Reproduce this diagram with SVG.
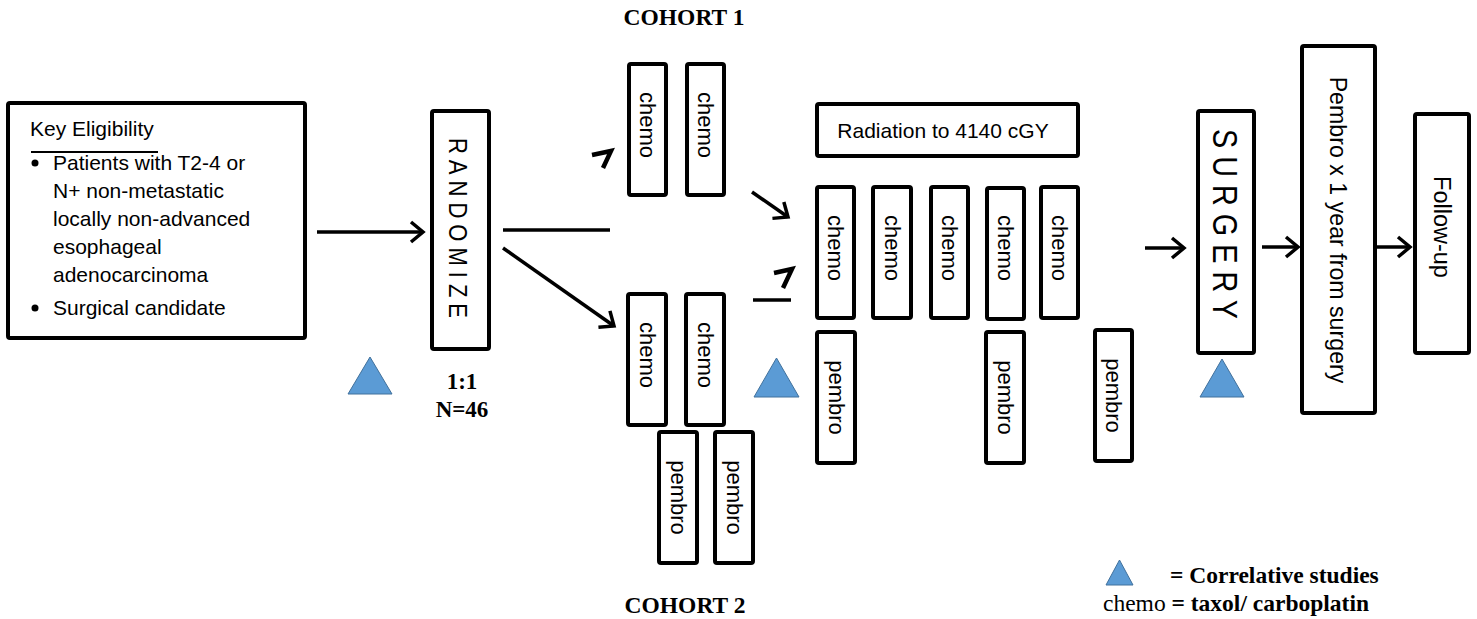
<svg xmlns="http://www.w3.org/2000/svg" width="1477" height="619" viewBox="0 0 1477 619">
  <defs>
    <style>
      .box { fill: #ffffff; stroke: #000000; stroke-width: 4; }
      .lbl { font-family: "Liberation Sans", Arial, sans-serif; fill: #000000; }
      .vt { font-family: "Liberation Sans", Arial, sans-serif; fill: #000000; text-anchor: middle; dominant-baseline: central; }
      .ser { font-family: "Liberation Serif", "Times New Roman", serif; fill: #000000; }
      .bold { font-weight: bold; }
      .tri { fill: #5b9bd5; stroke: #41719c; stroke-width: 1; }
      .conn { fill: none; stroke: #000000; stroke-width: 3.5; }
      .mark { fill: none; stroke: #000000; stroke-width: 4.5; stroke-linejoin: miter; }
    </style>
    <marker id="head" markerUnits="userSpaceOnUse" markerWidth="30" markerHeight="30" viewBox="-15 -15 30 30" refX="0" refY="0" orient="auto">
      <path d="M -12 -10 L 0 0 L -12 10" fill="none" stroke="#000000" stroke-width="3.5"/>
    </marker>
  </defs>

  <rect width="1477" height="619" fill="#ffffff"/>

  <!-- headings -->
  <g id="headings">
    <text class="ser bold" x="684" y="25" font-size="23.5" text-anchor="middle">COHORT 1</text>
    <text class="ser bold" x="685" y="613" font-size="23.5" text-anchor="middle">COHORT 2</text>
  </g>

  <!-- eligibility panel -->
  <g id="eligibility">
    <rect class="box" x="8" y="103" width="297" height="235" rx="2"/>
    <text class="lbl" x="30" y="136" font-size="21">Key Eligibility</text>
    <line x1="31" y1="152" x2="158" y2="152" stroke="#000" stroke-width="2"/>
    <circle cx="35" cy="163" r="3.5"/>
    <text class="lbl" x="53" y="170" font-size="21">Patients with T2-4 or</text>
    <text class="lbl" x="53" y="198" font-size="21">N+ non-metastatic</text>
    <text class="lbl" x="53" y="226" font-size="21">locally non-advanced</text>
    <text class="lbl" x="53" y="254" font-size="21">esophageal</text>
    <text class="lbl" x="53" y="282" font-size="21">adenocarcinoma</text>
    <circle cx="35" cy="308" r="3.5"/>
    <text class="lbl" x="53" y="315" font-size="21">Surgical candidate</text>
  </g>

  <!-- randomisation -->
  <g id="randomize">
    <rect class="box" x="432" y="111" width="57" height="238" rx="2"/>
    <text class="vt" transform="translate(458,231) rotate(90) scale(0.85,1)" font-size="26" letter-spacing="7">RANDOMIZE</text>
    <text class="ser bold" x="462" y="389" font-size="23" text-anchor="middle">1:1</text>
    <text class="ser bold" x="462" y="417" font-size="23" text-anchor="middle">N=46</text>
  </g>

  <!-- cohort 1 induction -->
  <g id="cohort1-chemo-1">
    <rect class="box" x="629" y="64" width="37" height="131" rx="2"/>
    <text class="vt" transform="translate(647.5,125) rotate(90)" font-size="22">chemo</text>
  </g>
  <g id="cohort1-chemo-2">
    <rect class="box" x="687" y="64" width="37" height="131" rx="2"/>
    <text class="vt" transform="translate(705.5,125) rotate(90)" font-size="22">chemo</text>
  </g>

  <!-- cohort 2 induction -->
  <g id="cohort2-chemo-1">
    <rect class="box" x="628" y="294" width="38" height="131" rx="2"/>
    <text class="vt" transform="translate(647,355) rotate(90)" font-size="22">chemo</text>
  </g>
  <g id="cohort2-chemo-2">
    <rect class="box" x="686" y="294" width="38" height="131" rx="2"/>
    <text class="vt" transform="translate(705,355) rotate(90)" font-size="22">chemo</text>
  </g>
  <g id="cohort2-pembro-1">
    <rect class="box" x="659" y="432" width="38" height="131" rx="2"/>
    <text class="vt" transform="translate(678,497.5) rotate(90)" font-size="22">pembro</text>
  </g>
  <g id="cohort2-pembro-2">
    <rect class="box" x="715" y="432" width="38" height="131" rx="2"/>
    <text class="vt" transform="translate(734,497.5) rotate(90)" font-size="22">pembro</text>
  </g>

  <!-- chemoradiation -->
  <g id="radiation">
    <rect class="box" x="817" y="104" width="261" height="52" rx="2"/>
    <text class="lbl" x="943" y="138" font-size="21" text-anchor="middle">Radiation to 4140 cGY</text>
  </g>
  <g id="crt-chemo-1">
    <rect class="box" x="817" y="187" width="37" height="131" rx="2"/>
    <text class="vt" transform="translate(835.5,248) rotate(90)" font-size="22">chemo</text>
  </g>
  <g id="crt-chemo-2">
    <rect class="box" x="873" y="187" width="38" height="131" rx="2"/>
    <text class="vt" transform="translate(892,248) rotate(90)" font-size="22">chemo</text>
  </g>
  <g id="crt-chemo-3">
    <rect class="box" x="931" y="187" width="37" height="131" rx="2"/>
    <text class="vt" transform="translate(949.5,248) rotate(90)" font-size="22">chemo</text>
  </g>
  <g id="crt-chemo-4">
    <rect class="box" x="987" y="188" width="37" height="131" rx="2"/>
    <text class="vt" transform="translate(1005.5,248) rotate(90)" font-size="22">chemo</text>
  </g>
  <g id="crt-chemo-5">
    <rect class="box" x="1041" y="187" width="37" height="131" rx="2"/>
    <text class="vt" transform="translate(1059.5,248) rotate(90)" font-size="22">chemo</text>
  </g>
  <g id="crt-pembro-1">
    <rect class="box" x="817" y="332" width="38" height="131" rx="2"/>
    <text class="vt" transform="translate(836,397.5) rotate(90)" font-size="22">pembro</text>
  </g>
  <g id="crt-pembro-2">
    <rect class="box" x="986" y="332" width="38" height="131" rx="2"/>
    <text class="vt" transform="translate(1005,397.5) rotate(90)" font-size="22">pembro</text>
  </g>
  <g id="crt-pembro-3">
    <rect class="box" x="1095" y="330" width="37" height="131" rx="2"/>
    <text class="vt" transform="translate(1113.5,395.5) rotate(90)" font-size="22">pembro</text>
  </g>

  <!-- surgery and adjuvant phase -->
  <g id="surgery">
    <rect class="box" x="1198" y="111" width="56" height="242" rx="2"/>
    <text class="vt" transform="translate(1226,228) rotate(90) scale(0.8,1)" font-size="36" letter-spacing="10">SURGERY</text>
  </g>
  <g id="adjuvant">
    <rect class="box" x="1302" y="46" width="73" height="367" rx="2"/>
    <text class="vt" transform="translate(1338,230) rotate(90)" font-size="23.2">Pembro x 1 year from surgery</text>
  </g>
  <g id="follow-up">
    <rect class="box" x="1415" y="114" width="54" height="239" rx="2"/>
    <text class="vt" transform="translate(1442,227) rotate(90)" font-size="23.5">Follow-up</text>
  </g>

  <!-- correlative study time points -->
  <g id="correlative-markers">
    <polygon class="tri" points="348,394 370,357 392,394"/>
    <polygon class="tri" points="754,397 776.5,358 799,397"/>
    <polygon class="tri" points="1200,397 1222,359 1244,397"/>
  </g>

  <!-- connectors -->
  <g id="connectors">
    <line class="conn" x1="317" y1="232" x2="423" y2="232" marker-end="url(#head)"/>
    <line class="conn" x1="503" y1="230" x2="610" y2="230"/>
    <line class="conn" x1="503" y1="248" x2="614" y2="326" marker-end="url(#head)"/>
    <polyline class="mark" points="592,155 611,151 603,168"/>
    <line class="conn" x1="752" y1="192" x2="788" y2="217" marker-end="url(#head)"/>
    <polyline class="mark" points="774,273 792,269 783,288"/>
    <line class="conn" x1="753" y1="300" x2="791" y2="300"/>
    <line class="conn" x1="1145" y1="248" x2="1184" y2="248" marker-end="url(#head)"/>
    <line class="conn" x1="1262" y1="247" x2="1298" y2="247" marker-end="url(#head)"/>
    <line class="conn" x1="1373" y1="247" x2="1410" y2="247" marker-end="url(#head)"/>
  </g>

  <!-- legend -->
  <g id="legend">
    <polygon class="tri" points="1106,585 1119.5,560 1133,585"/>
    <text class="ser bold" x="1170" y="583" font-size="23.5">= Correlative studies</text>
    <text class="ser" x="1103" y="611" font-size="23.5">chemo <tspan class="bold">= taxol/ carboplatin</tspan></text>
  </g>
</svg>
